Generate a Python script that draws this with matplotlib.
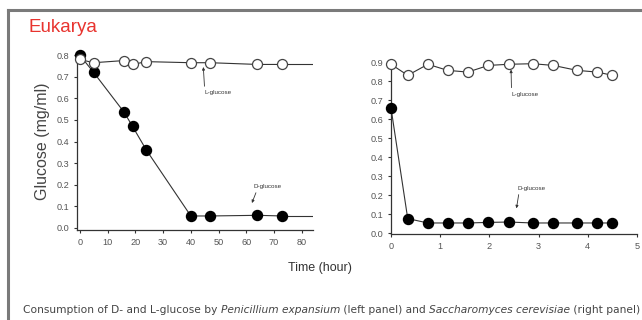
import matplotlib
matplotlib.use("Agg")
import matplotlib.pyplot as plt
from matplotlib.lines import Line2D

plt.rcParams['font.family'] = ['Liberation Sans', 'DejaVu Sans']

# Left panel: Penicillium expansum (time in hours)
left_time = [0, 5, 16, 19, 24, 40, 47, 64, 73]
left_d = [0.80, 0.72, 0.535, 0.47, 0.36, 0.055, 0.055, 0.058, 0.055]
left_l = [0.78, 0.765, 0.775, 0.757, 0.77, 0.765, 0.765, 0.757, 0.757]
left_xticks = [0, 10, 20, 30, 40, 50, 60, 70, 80]
left_yticks = [0.0, 0.1, 0.2, 0.3, 0.4, 0.5, 0.6, 0.7, 0.8]

# Right panel: Saccharomyces cerevisiae
right_time = [0, 0.34, 0.75, 1.15, 1.56, 1.98, 2.39, 2.88, 3.30, 3.78, 4.19, 4.50]
right_d = [0.658, 0.076, 0.053, 0.053, 0.053, 0.056, 0.058, 0.053, 0.053, 0.053, 0.053, 0.053]
right_l = [0.888, 0.830, 0.888, 0.856, 0.847, 0.882, 0.888, 0.891, 0.882, 0.856, 0.847, 0.830]
right_xticks = [0, 1, 2, 3, 4, 5]
right_yticks = [0.0, 0.1, 0.2, 0.3, 0.4, 0.5, 0.6, 0.7, 0.8, 0.9]

W, H = 642, 320
fig = plt.figure(figsize=(W / 100, H / 100), dpi=100)

def px_axes(x0, y_top, x1, y_bot):
    return fig.add_axes([x0 / W, 1 - y_bot / H, (x1 - x0) / W, (y_bot - y_top) / H])

tick_col = '#555555'
line_col = '#333333'

def style(ax):
    for s in ['top', 'right']:
        ax.spines[s].set_visible(False)
    for s in ['left', 'bottom']:
        ax.spines[s].set_color('#333333')
        ax.spines[s].set_linewidth(0.9)
    ax.tick_params(direction='out', length=2.5, width=0.8, colors='#333333',
                   labelsize=6.6, labelcolor=tick_col, pad=3)

def draw(ax, t, d, l, ms):
    ax.plot(t, d, '-', color=line_col, lw=0.8, marker='o', ms=ms,
            mfc='black', mec='black', zorder=3, clip_on=False)
    ax.plot(t, l, '-', color=line_col, lw=0.8, marker='o', ms=ms,
            mfc='white', mec='#444444', mew=0.9, zorder=4, clip_on=False)

# left axes
axL = px_axes(77, 53, 313, 230)
style(axL)
axL.set_xlim(-1, 84)
axL.set_ylim(-0.01, 0.81)
draw(axL, left_time, left_d, left_l, 7.2)
xr = axL.get_xlim()[1]
axL.plot([left_time[-1], xr], [left_d[-1], left_d[-1]], '-', color=line_col, lw=0.8, zorder=2)
axL.plot([left_time[-1], xr], [left_l[-1], left_l[-1]], '-', color=line_col, lw=0.8, zorder=2)
axL.set_xticks(left_xticks)
axL.set_xticklabels([str(v) for v in left_xticks])
axL.set_yticks(left_yticks)
axL.set_yticklabels([f"{v:.1f}" for v in left_yticks])
axL.set_ylabel('Glucose (mg/ml)', fontsize=11.5, color='#444444', labelpad=5)

axL.annotate('L-glucose', xy=(44.5, 0.745), xytext=(45, 0.625), fontsize=4.5,
             color='#333333', ha='left', va='center',
             arrowprops=dict(arrowstyle='-|>', color='#333333', lw=0.6,
                             mutation_scale=4, shrinkA=1, shrinkB=0,
                             relpos=(0.0, 1.0)))
axL.annotate('D-glucose', xy=(62.0, 0.115), xytext=(62.5, 0.193), fontsize=4.5,
             color='#333333', ha='left', va='center',
             arrowprops=dict(arrowstyle='-|>', color='#333333', lw=0.6,
                             mutation_scale=4, shrinkA=1, shrinkB=0,
                             relpos=(0.15, 0.0)))

# right axes
axR = px_axes(391, 62, 637, 234)
style(axR)
axR.set_xlim(0, 5)
axR.set_ylim(-0.005, 0.9)
draw(axR, right_time, right_d, right_l, 7.2)
axR.set_xticks(right_xticks)
axR.set_xticklabels([str(v) for v in right_xticks])
axR.set_yticks(right_yticks)
axR.set_yticklabels([f"{v:.1f}" for v in right_yticks])

axR.annotate('L-glucose', xy=(2.44, 0.86), xytext=(2.45, 0.73), fontsize=4.5,
             color='#333333', ha='left', va='center',
             arrowprops=dict(arrowstyle='-|>', color='#333333', lw=0.6,
                             mutation_scale=4, shrinkA=1, shrinkB=0,
                             relpos=(0.0, 1.0)))
axR.annotate('D-glucose', xy=(2.55, 0.13), xytext=(2.58, 0.237), fontsize=4.5,
             color='#333333', ha='left', va='center',
             arrowprops=dict(arrowstyle='-|>', color='#333333', lw=0.6,
                             mutation_scale=4, shrinkA=1, shrinkB=0,
                             relpos=(0.05, 0.0)))

# figure texts
fig.text(29 / W, 1 - 28 / H, 'Eukarya', color='#e8342f', fontsize=13.5, ha='left', va='center')
fig.text(320 / W, 1 - 268 / H, 'Time (hour)', color='#333333', fontsize=9, ha='center', va='center')

# caption with italic species names
parts = [("Consumption of D- and L-glucose by ", 'normal'),
         ("Penicillium expansium", 'italic'),
         (" (left panel) and ", 'normal'),
         ("Saccharomyces cerevisiae", 'italic'),
         (" (right panel)", 'normal')]
renderer = fig.canvas.get_renderer()
x = 23.0
for txt, st in parts:
    t = fig.text(x / W, 1 - 310 / H, txt, fontsize=7.7, style=st, color='#444444',
                 family=['DejaVu Sans'], ha='left', va='center')
    bb = t.get_window_extent(renderer=renderer)
    x += bb.width

# partial frame (top and left edges)
fig.add_artist(Line2D([8 / W, 1.0], [1 - 10 / H, 1 - 10 / H], color='#7a7a7a', lw=2.2,
                      transform=fig.transFigure))
fig.add_artist(Line2D([8 / W, 8 / W], [0.0, 1 - 10 / H], color='#7a7a7a', lw=2.2,
                      transform=fig.transFigure))

fig.savefig('out.png', dpi=100)
